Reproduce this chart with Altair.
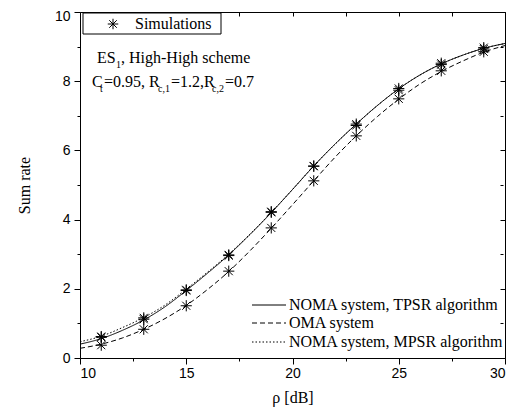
import altair as alt
import pandas as pd

# ---- data ----
rho = list(range(10, 31))
tpsr = [0.40, 0.56, 0.80, 1.10, 1.48, 1.95, 2.45, 2.98, 3.57, 4.20, 4.87,
        5.55, 6.18, 6.76, 7.30, 7.78, 8.18, 8.50, 8.75, 8.95, 9.09]
oma = [0.28, 0.40, 0.58, 0.83, 1.14, 1.52, 1.98, 2.50, 3.10, 3.75, 4.43,
       5.12, 5.80, 6.42, 6.98, 7.48, 7.92, 8.28, 8.58, 8.84, 9.03]
mpsr = [0.47, 0.63, 0.88, 1.17, 1.53, 1.99, 2.48, 3.00, 3.58, 4.21, 4.87,
        5.55, 6.18, 6.76, 7.30, 7.78, 8.18, 8.50, 8.75, 8.95, 9.09]

sim_rho = [11, 13, 15, 17, 19, 21, 23, 25, 27, 29]
sim_noma = [0.62, 1.12, 1.95, 2.98, 4.23, 5.55, 6.76, 7.79, 8.52, 8.97]
sim_oma = [0.37, 0.83, 1.51, 2.51, 3.76, 5.12, 6.42, 7.49, 8.30, 8.85]
sim_mpsr = [0.60, 1.16, 1.97, 2.96, 4.21, 5.54, 6.72, 7.74, 8.48, 8.93]

series_names = ["NOMA system, TPSR algorithm", "OMA system", "NOMA system, MPSR algorithm"]

rows = []
for name, vals in zip(series_names, [tpsr, oma, mpsr]):
    for r, v in zip(rho, vals):
        rows.append({"rho": r, "rate": v, "series": name})
lines_df = pd.DataFrame(rows)

srows = []
for vals in [sim_noma, sim_oma, sim_mpsr]:
    for r, v in zip(sim_rho, vals):
        srows.append({"rho": r, "rate": v})
sim_df = pd.DataFrame(srows)

SERIF = "Liberation Serif"
SANS = "Liberation Sans"
STAR = "M -1 0 L 1 0 M 0 -1 L 0 1 M -0.72 -0.72 L 0.72 0.72 M -0.72 0.72 L 0.72 -0.72"

xscale = alt.Scale(domain=[10, 30], nice=False, zero=False)
yscale = alt.Scale(domain=[0, 10], nice=False, zero=False)

x_ticks = [10 + 2.5 * i for i in range(9)]
y_ticks = list(range(0, 11))

x_bottom = alt.Axis(
    values=x_ticks, orient="bottom", title="ρ [dB]", domain=False, grid=False,
    labelExpr="datum.value % 5 == 0 ? datum.label : ''",
    tickSize={"condition": {"test": "datum.value % 5 == 0", "value": 6}, "value": 3},
    tickColor="black", labelFont=SANS, labelFontSize=14, labelColor="black",
    labelPadding=2, titleFont=SERIF, titleFontSize=16, titleFontWeight="normal",
    titleColor="black", titlePadding=9,
)
y_left = alt.Axis(
    values=y_ticks, orient="left", title="Sum rate", domain=False, grid=False,
    labelExpr="datum.value % 2 == 0 ? datum.label : ''",
    labelOffset={"condition": {"test": "datum.value == 10", "value": 4}, "value": 0},
    tickSize={"condition": {"test": "datum.value % 2 == 0", "value": 6}, "value": 3},
    tickColor="black", labelFont=SANS, labelFontSize=14, labelColor="black",
    labelPadding=4, titleFont=SERIF, titleFontSize=16, titleFontWeight="normal",
    titleColor="black", titlePadding=22,
)
x_top = alt.Axis(
    values=x_ticks, orient="top", title=None, domain=False, grid=False, labels=False,
    tickSize=4, offset=-4, tickColor="black",
)
y_right = alt.Axis(
    values=y_ticks, orient="right", title=None, domain=False, grid=False, labels=False,
    tickSize={"condition": {"test": "datum.value % 2 == 0", "value": 5}, "value": 3},
    offset=-5, tickColor="black",
)

base = alt.Chart(lines_df)

lines = base.mark_line(color="black", strokeWidth=1, interpolate="monotone", clip=True).encode(
    x=alt.X("rho:Q", scale=xscale, axis=x_bottom),
    y=alt.Y("rate:Q", scale=yscale, axis=y_left),
    strokeDash=alt.StrokeDash(
        "series:N",
        scale=alt.Scale(domain=series_names, range=[[1, 0], [5, 3], [1.5, 2]]),
        legend=None,
    ),
    detail="series:N",
)

axes_extra = alt.Chart(lines_df).mark_point(opacity=0).encode(
    x=alt.X("rho:Q", scale=xscale, axis=x_top),
    y=alt.Y("rate:Q", scale=yscale, axis=y_right),
)

sims = alt.Chart(sim_df).mark_point(
    shape=STAR, size=125, filled=False, stroke="black", strokeWidth=1, opacity=1
).encode(
    x=alt.X("rho:Q", scale=xscale, axis=None),
    y=alt.Y("rate:Q", scale=yscale, axis=None),
)

# ---- legend: simulations box ----
box = alt.Chart(pd.DataFrame({"k": [0]})).mark_rect(
    fill="white", stroke="black", strokeWidth=1
).encode(x=alt.value(3), x2=alt.value(141), y=alt.value(1), y2=alt.value(22))
box_star = alt.Chart(pd.DataFrame({"k": [0]})).mark_point(
    shape=STAR, size=110, filled=False, stroke="black", strokeWidth=1, opacity=1
).encode(x=alt.value(33), y=alt.value(12))
box_text = alt.Chart(pd.DataFrame({"t": ["Simulations"]})).mark_text(
    font=SERIF, fontSize=16, align="left", baseline="middle", color="black"
).encode(x=alt.value(55), y=alt.value(12), text="t:N")

# ---- annotation text with subscripts ----
ann_main = pd.DataFrame({
    "t": ["ES", ", High-High scheme", "C", "=0.95, R", "=1.2,R", "=0.7"],
    "x": [17, 41, 12, 24, 91, 145],
    "y": [51, 51, 75, 75, 75, 75],
})
ann_sub = pd.DataFrame({
    "t": ["1", "t", "c,1", "c,2"],
    "x": [36, 20, 78, 132],
    "y": [56, 80, 80, 80],
})
ann1 = alt.Chart(ann_main).mark_text(
    font=SERIF, fontSize=16, align="left", baseline="alphabetic", color="black"
).encode(x=alt.X("x:Q", scale=None, axis=None), y=alt.Y("y:Q", scale=None, axis=None), text="t:N")
ann2 = alt.Chart(ann_sub).mark_text(
    font=SERIF, fontSize=10, align="left", baseline="alphabetic", color="black"
).encode(x=alt.X("x:Q", scale=None, axis=None), y=alt.Y("y:Q", scale=None, axis=None), text="t:N")

# ---- legend: line styles ----
leg_df = pd.DataFrame({
    "series": series_names,
    "y": [293, 311, 330],
})
leg_lines = alt.Chart(leg_df).mark_rule(color="black", strokeWidth=1).encode(
    x=alt.value(172), x2=alt.value(206),
    y=alt.Y("y:Q", scale=None, axis=None),
    strokeDash=alt.StrokeDash(
        "series:N",
        scale=alt.Scale(domain=series_names, range=[[1, 0], [5, 3], [1.5, 2]]),
        legend=None,
    ),
)
leg_text = alt.Chart(leg_df).mark_text(
    font=SERIF, fontSize=16, align="left", baseline="middle", color="black"
).encode(x=alt.value(209), y=alt.Y("y:Q", scale=None, axis=None), text="series:N")

chart = alt.layer(
    lines, axes_extra, sims, box, box_star, box_text, ann1, ann2, leg_lines, leg_text
).resolve_axis(x="independent", y="independent").properties(
    width=425, height=346,
    autosize=alt.AutoSizeParams(type="none"),
    padding={"left": 72, "top": 4, "right": 7, "bottom": 50},
    background="white",
).configure_view(stroke="black", strokeWidth=1)

chart.save("out.html", embed_options={"renderer": "svg", "actions": False})
